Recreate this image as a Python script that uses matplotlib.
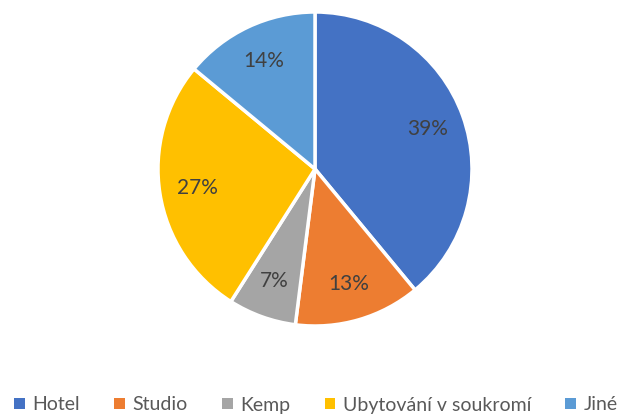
import matplotlib
matplotlib.use('Agg')
import matplotlib.pyplot as plt
from matplotlib.patches import Patch

categories = ['Hotel', 'Studio', 'Kemp', 'Ubytování v soukromí', 'Jiné']
shares = [39, 13, 7, 27, 14]
colors = ['#4472C4', '#ED7D31', '#A5A5A5', '#FFC000', '#5B9BD5']

plt.rcParams['font.family'] = ['Lato', 'DejaVu Sans']

W, H = 631, 417
fig = plt.figure(figsize=(W / 100, H / 100), dpi=100)
cx, cy, r = 315, 169, 157
ax = fig.add_axes([(cx - r) / W, (H - cy - r) / H, 2 * r / W, 2 * r / H])

wedges, texts, autotexts = ax.pie(
    shares, colors=colors, startangle=90, counterclock=False,
    autopct='%d%%', pctdistance=0.76, radius=1,
    wedgeprops=dict(edgecolor='white', linewidth=2.5),
    textprops=dict(color='#404040', fontsize=15))
ax.set_xlim(-1, 1)
ax.set_ylim(-1, 1)
ax.set_aspect('equal')
ax.axis('off')

handles = [Patch(facecolor=c, edgecolor='none') for c in colors]
fig.legend(handles, categories, loc='center left', bbox_to_anchor=(14 / W, 1 - 405 / H),
           ncol=5, frameon=False, fontsize=14, handlelength=0.55, handleheight=0.55,
           handletextpad=0.4, columnspacing=1.75, labelcolor='#595959',
           borderaxespad=0, borderpad=0)

fig.savefig('out.png', dpi=100)
